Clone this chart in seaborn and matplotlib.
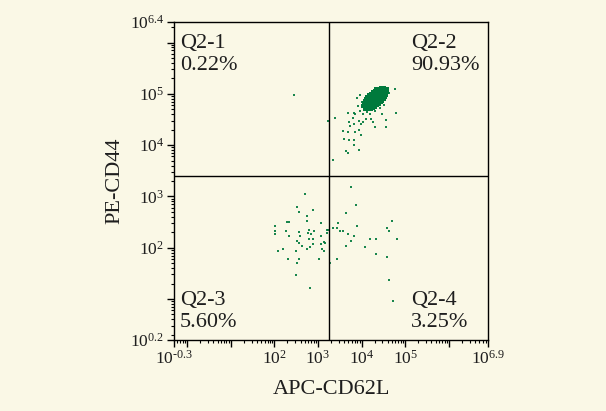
import numpy as np
import pandas as pd
import matplotlib
matplotlib.use("Agg")
import matplotlib.pyplot as plt
import seaborn as sns
from matplotlib.ticker import FixedLocator, LogLocator, NullFormatter

# ---------------- data (log10 of fluorescence intensity) ----------------
# sparse events
cd62l_sparse = [
    2.706, 2.529, 2.568, 2.890, 2.743, 2.743, 2.292, 2.345, 2.023, 3.074, 2.559,
    2.805, 2.920, 3.225, 2.023, 2.023, 2.269, 2.345, 2.598, 2.782, 2.851, 3.074,
    3.218, 2.805, 2.880, 2.522, 2.559, 2.880, 3.074, 3.133, 3.172, 2.637, 2.743,
    2.821, 3.097, 3.133, 2.207, 2.092, 2.490, 2.315, 2.568, 3.034, 2.529, 2.490,
    2.821, 3.218,
    3.754, 3.862, 3.648, 3.471, 3.356, 3.432, 3.510, 3.579, 3.901, 3.685, 3.823,
    3.754, 3.648, 4.076, 4.191, 4.338, 4.697, 4.582, 4.621, 4.805, 4.338, 4.582,
    3.432, 3.271, 4.621, 4.720,
    2.453, 3.225,
    3.395, 3.685, 3.800, 3.816, 3.708, 3.816, 3.931, 4.030, 4.092, 4.207, 4.260,
    3.993, 3.740, 3.570, 3.685, 3.839, 3.993, 3.938, 3.609, 3.724, 3.816, 3.823,
    3.938, 3.648, 3.685, 3.356, 4.798, 4.759, 4.414, 4.628, 4.552, 4.552, 4.299,
    4.467,
    3.924, 4.000, 3.961, 4.039, 4.115, 4.191, 3.846, 4.306, 4.414, 4.506, 3.885,
    3.954,
]
cd44_sparse = [
    3.048, 2.800, 2.700, 2.734, 2.608, 2.514, 2.508, 2.508, 2.420, 2.480, 2.314,
    2.348, 2.328, 2.354, 2.328, 2.260, 2.328, 2.228, 2.228, 2.280, 2.260, 2.228,
    2.288, 2.168, 2.168, 2.128, 2.094, 2.074, 2.074, 2.114, 2.094, 2.040, 1.980,
    2.008, 1.968, 1.940, 1.968, 1.940, 1.940, 1.780, 1.780, 1.780, 1.694, 1.468,
    1.214, 2.348,
    3.180, 2.828, 2.668, 2.474, 2.388, 2.388, 2.320, 2.320, 2.420, 2.260, 2.228,
    2.134, 2.040, 2.008, 2.168, 2.168, 2.514, 2.388, 2.320, 2.168, 1.880, 1.820,
    1.780, 1.694, 1.374, 0.968,
    4.980, 4.468,
    4.534, 4.628, 4.534, 4.620, 4.448, 4.414, 4.468, 4.448, 4.500, 4.500, 4.448,
    4.408, 4.380, 4.280, 4.248, 4.248, 4.194, 4.300, 4.128, 4.094, 4.094, 3.994,
    3.914, 3.880, 3.848, 3.714, 4.634, 5.100, 5.128, 5.014, 4.480, 4.348, 4.348,
    4.600,
    4.768, 4.834, 4.668, 4.600, 4.648, 4.600, 4.600, 4.668, 4.714, 4.774, 4.914,
    4.974,
]
# dense CD62L+ CD44+ population
cd62l_core = [
    4.04, 4.08,
    4.054, 4.087, 4.121, 4.154,
    4.075, 4.110, 4.145, 4.180, 4.215,
    4.105, 4.145, 4.185, 4.225, 4.265,
    4.136, 4.181, 4.226, 4.271, 4.316,
    4.176, 4.221, 4.266, 4.311, 4.356,
    4.217, 4.262, 4.307, 4.352, 4.397,
    4.257, 4.302, 4.347, 4.392, 4.437,
    4.298, 4.343, 4.388, 4.433, 4.478,
    4.338, 4.383, 4.428, 4.473, 4.518,
    4.394, 4.432, 4.469, 4.506, 4.544,
    4.449, 4.489, 4.529, 4.569,
    4.510, 4.550, 4.590,
    4.582,
    4.160, 4.200, 4.240, 4.280, 4.320, 4.360, 4.400, 4.440, 4.480, 4.520,
    4.130, 4.190, 4.250, 4.300, 4.350, 4.410, 4.460, 4.500, 4.540,
]
cd44_core = [
    4.760, 4.710,
    4.817, 4.781, 4.743, 4.707,
    4.868, 4.829, 4.791, 4.752, 4.713,
    4.907, 4.863, 4.819, 4.775, 4.731,
    4.947, 4.897, 4.848, 4.798, 4.749,
    4.975, 4.926, 4.876, 4.827, 4.777,
    5.004, 4.954, 4.905, 4.855, 4.806,
    5.032, 4.983, 4.933, 4.884, 4.834,
    5.061, 5.011, 4.962, 4.912, 4.863,
    5.089, 5.040, 4.990, 4.941, 4.891,
    5.101, 5.059, 5.019, 4.978, 4.936,
    5.113, 5.069, 5.025, 4.981,
    5.120, 5.076, 5.032,
    5.098,
    4.850, 4.880, 4.910, 4.940, 4.970, 5.000, 5.030, 5.050, 5.070, 5.060,
    4.770, 4.800, 4.830, 4.860, 4.890, 4.920, 4.950, 4.970, 4.990,
]

quadrant_names = ["Q2-1", "Q2-2", "Q2-3", "Q2-4"]
quadrant_pcts = ["0.22%", "90.93%", "5.60%", "3.25%"]
gate_x = 1790   # CD62L gate
gate_y = 2510   # CD44 gate

x_label = "APC-CD62L"
y_label = "PE-CD44"

# ---------------- style ----------------
bg = "#faf8e6"
green = "#007a3c"
ink = "#1e1e1e"
sns.set_theme(style="white")
plt.rcParams["font.family"] = ["Liberation Serif", "DejaVu Serif"]
plt.rcParams["mathtext.fontset"] = "custom"
plt.rcParams["mathtext.rm"] = "Liberation Serif"
plt.rcParams["mathtext.it"] = "Liberation Serif:italic"

fig = plt.figure(figsize=(6.06, 4.11), dpi=100, facecolor=bg)
ax = fig.add_axes([174 / 606, 1 - 340 / 411, 314 / 606, 318 / 411])
ax.set_facecolor(bg)

sparse = pd.DataFrame({"x": 10 ** np.array(cd62l_sparse), "y": 10 ** np.array(cd44_sparse)})
core = pd.DataFrame({"x": 10 ** np.array(cd62l_core), "y": 10 ** np.array(cd44_core)})

sns.scatterplot(data=sparse, x="x", y="y", ax=ax, marker="s", s=2.5,
                color=green, linewidth=0, alpha=0.9)
sns.scatterplot(data=core, x="x", y="y", ax=ax, marker="s", s=9,
                color=green, linewidth=0)

ax.set_xscale("log")
ax.set_yscale("log")
xmin, xmax = 10 ** -0.3, 10 ** 6.9
ymin, ymax = 10 ** 0.2, 10 ** 6.4
ax.set_xlim(xmin, xmax)
ax.set_ylim(ymin, ymax)

ax.axvline(gate_x, color="black", lw=1.0)
ax.axhline(gate_y, color="black", lw=1.0)

xt = [xmin, 1, 10, 100, 1e3, 1e4, 1e5, 1e6, xmax]
xtl = ["$\\mathregular{10^{\u20100.3}}$", "", "", r"$\mathregular{10^{2}}$",
       r"$\mathregular{10^{3}}$", r"$\mathregular{10^{4}}$", r"$\mathregular{10^{5}}$",
       "", r"$\mathregular{10^{6.9}}$"]
yt = [ymin, 10, 100, 1e3, 1e4, 1e5, 1e6, ymax]
ytl = [r"$\mathregular{10^{0.2}}$", "", r"$\mathregular{10^{2}}$", r"$\mathregular{10^{3}}$",
       r"$\mathregular{10^{4}}$", r"$\mathregular{10^{5}}$", "", r"$\mathregular{10^{6.4}}$"]
ax.xaxis.set_major_locator(FixedLocator(xt))
ax.yaxis.set_major_locator(FixedLocator(yt))
ax.set_xticklabels(xtl)
ax.set_yticklabels(ytl)
ax.xaxis.set_minor_locator(LogLocator(base=10, subs=np.arange(2, 10), numticks=20))
ax.yaxis.set_minor_locator(LogLocator(base=10, subs=np.arange(2, 10), numticks=20))
ax.xaxis.set_minor_formatter(NullFormatter())
ax.yaxis.set_minor_formatter(NullFormatter())

ax.tick_params(which="major", direction="out", length=5, width=1.0, color="black",
               labelsize=12.5, labelcolor=ink, pad=2, bottom=True, left=True)
ax.tick_params(which="minor", direction="out", length=2.5, width=0.8, color="black",
               bottom=True, left=True)
for sp in ax.spines.values():
    sp.set_color("black")
    sp.set_linewidth(1.0)

ax.set_xlabel(x_label, fontsize=16, color=ink, labelpad=9)
ax.set_ylabel(y_label, fontsize=16, color=ink, labelpad=4)

tkw = dict(transform=ax.transAxes, fontsize=16, color=ink, linespacing=1.2)
ax.text(0.019, 0.962, f"{quadrant_names[0]}\n{quadrant_pcts[0]}", ha="left", va="top", **tkw)
ax.text(0.755, 0.962, f"{quadrant_names[1]}\n{quadrant_pcts[1]}", ha="left", va="top", **tkw)
ax.text(0.019, 0.025, f"{quadrant_names[2]}\n{quadrant_pcts[2]}", ha="left", va="bottom", **tkw)
ax.text(0.755, 0.025, f"{quadrant_names[3]}\n{quadrant_pcts[3]}", ha="left", va="bottom", **tkw)

fig.savefig("out.png", dpi=100, facecolor=bg)
